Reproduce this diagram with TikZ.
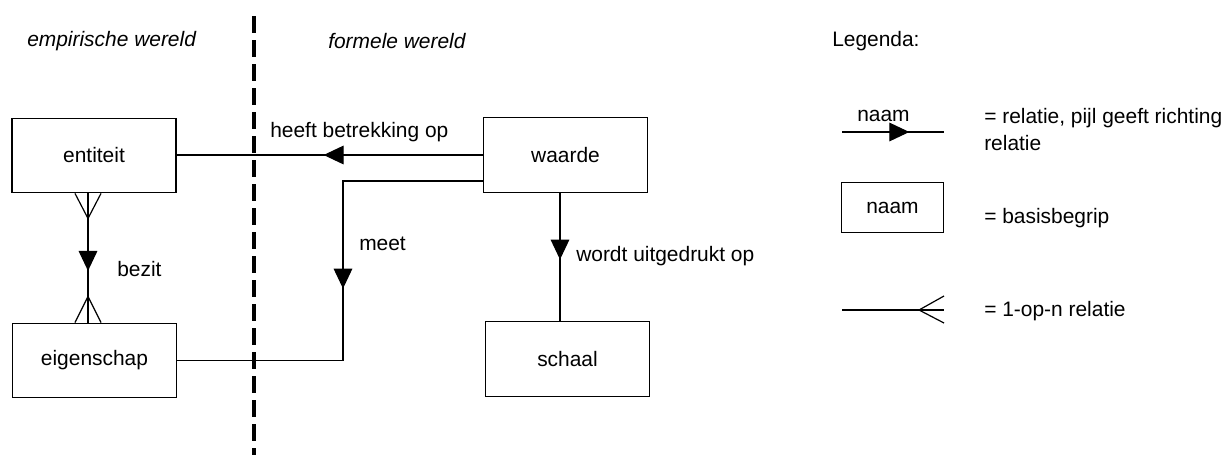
\documentclass[tikz,border=0pt]{standalone}
\usepackage{fontspec}
\setmainfont{Liberation Sans}
\usetikzlibrary{arrows.meta, calc, decorations.markings}

\tikzset{
	basis/.style = {draw, line width=0.9pt, minimum width=123pt, minimum height=56pt, inner sep=0pt},
	lbl/.style = {inner sep=0pt, anchor=west},
	lijn/.style = {line width=0.9pt},
	midpijl/.style = {lijn, postaction={decorate, decoration={markings,
		mark=at position #1 with {\arrow{Triangle[length=15pt,width=14pt]}}}}},
	kraai/.style = {line width=0.9pt}
}

\begin{document}
\begin{tikzpicture}[x=0.75pt, y=-0.75pt, font=\fontsize{15.7}{20.25}\selectfont]
						\useasboundingbox (0,0) rectangle (1228,458);
						% werelden
						\coordinate (grensboven) at (254,16);
						\coordinate (grensonder) at (254,455);
						\draw[line width=2.3pt, dash pattern=on 13pt off 5pt] (grensboven) -- (grensonder);
						\node[lbl] (empirisch) at (27,41) {\textit{empirische wereld}};
						\node[lbl] (formeel) at (328,41) {\textit{formele wereld}};
						\node[lbl] (legenda) at (832,41) {Legenda:};

						% basisbegrippen
						\node[basis] (entiteit) at (94,155.5) {entiteit};
						\node[basis] (eigenschap) at (94.5,360.5) {eigenschap};
						\node[basis] (waarde) at (565.5,155) {waarde};
						\node[basis] (schaal) at (567.5,359) {schaal};

						% relaties
						\draw[midpijl=0.52] (waarde.west) -- (waarde.west -| entiteit.east);
						\node[lbl] (betrekking) at (270,132) {heeft betrekking op};

						\coordinate (meethoek1) at ($(waarde.west)+(0,26)$);
						\draw[midpijl=0.51] (meethoek1) -| (343,360.5) -- (eigenschap.east);
						\node[lbl] (meet) at (359,244) {meet};

						\coordinate (uitboven) at ($(waarde.south)+(-5.5,0)$);
						\draw[midpijl=0.52] (uitboven) -- (uitboven |- schaal.north);
						\node[lbl] (uitgedrukt) at (576,256) {wordt uitgedrukt op};

						\coordinate (bezitboven) at ($(entiteit.south)+(-6,0)$);
						\coordinate (bezitonder) at (bezitboven |- eigenschap.north);
						\draw[midpijl=0.6] (bezitboven) -- (bezitonder);
						\draw[kraai] ($(bezitboven)+(-13,0)$) -- ($(bezitboven)+(0,25)$) -- ($(bezitboven)+(13,0)$);
						\draw[kraai] ($(bezitonder)+(-13,0)$) -- ($(bezitonder)+(0,-26)$) -- ($(bezitonder)+(13,0)$);
						\node[lbl] (bezit) at (117,269) {bezit};

						% legenda
						\coordinate (relvan) at (842,132);
						\coordinate (relnaar) at (944,132);
						\draw[midpijl=0.66] (relvan) -- (relnaar);
						\node[lbl] (relnaam) at (857,116) {naam};
						\node[lbl, align=left] (reltekst) at (984,129.5) {= relatie, pijl geeft richting\\relatie};

						\node[basis, minimum width=77pt, minimum height=38pt] (voorbeeld) at (892.5,207.5) {naam};
						\node[lbl] (basistekst) at (984,218) {= basisbegrip};

						\coordinate (eenvan) at (842,310);
						\coordinate (eennaar) at (944,310);
						\coordinate (eenpunt) at (919,310);
						\draw[lijn] (eenvan) -- (eennaar);
						\draw[kraai] (944,296) -- (eenpunt) -- (944,323);
						\node[lbl] (eentekst) at (984,311) {= 1-op-n relatie};
				\end{tikzpicture}
\end{document}
